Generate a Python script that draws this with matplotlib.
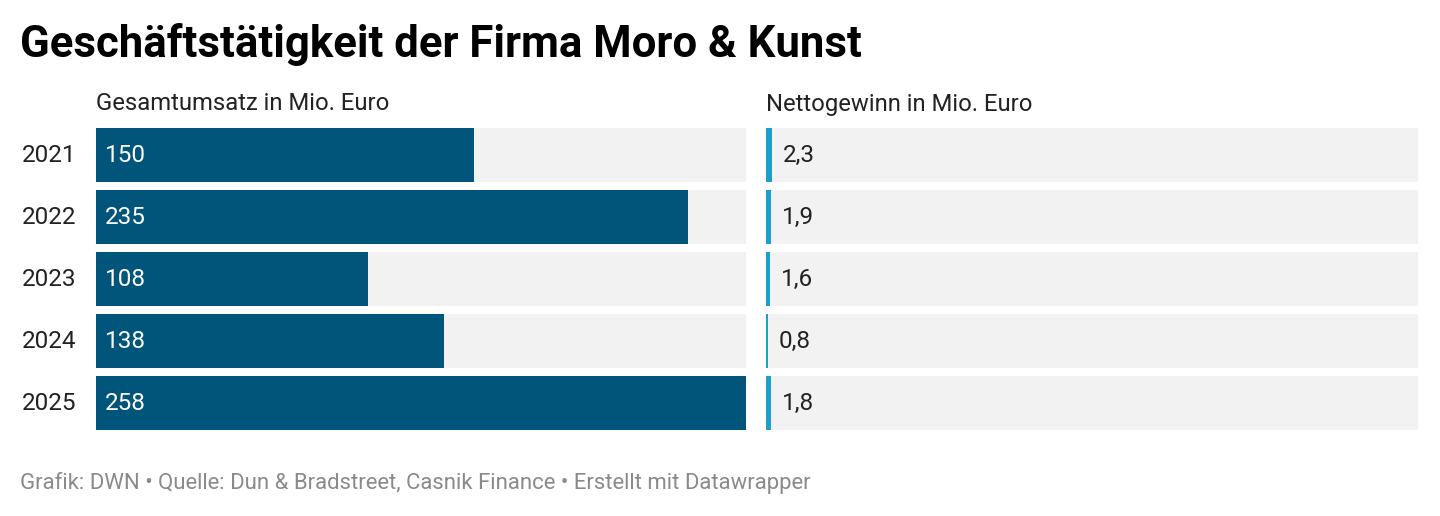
import matplotlib
matplotlib.use("Agg")
from matplotlib import pyplot as plt

plt.rcParams['font.family'] = ['Roboto', 'DejaVu Sans']

years = ["2021", "2022", "2023", "2024", "2025"]
umsatz = [150, 235, 108, 138, 258]
gewinn = [2.3, 1.9, 1.6, 0.8, 1.8]
umsatz_labels = ["150", "235", "108", "138", "258"]
gewinn_labels = ["2,3", "1,9", "1,6", "0,8", "1,8"]

W, H = 1440, 516
fig = plt.figure(figsize=(W / 100, H / 100), dpi=100)
fig.patch.set_facecolor("white")

scale_max = max(umsatz)
bg_color = "#f2f2f2"
dark = "#01557b"
light = "#1a9fce"


def px_axes(x0, x1, y0, y1):
    # pixel box (top-left origin) -> figure fraction
    return fig.add_axes([x0 / W, 1 - y1 / H, (x1 - x0) / W, (y1 - y0) / H])


top = 128
pitch = 62
bar_h = 54 / pitch
n = len(years)

panels = [
    (96, 746, umsatz, umsatz_labels, dark, "white", "Gesamtumsatz in Mio. Euro"),
    (766, 1418, gewinn, gewinn_labels, light, "#222222", "Nettogewinn in Mio. Euro"),
]

for x0, x1, vals, labels, col, tcol, head in panels:
    ax = px_axes(x0, x1, top, top + pitch * n - (pitch - 54))
    ypos = list(range(n))
    ax.barh(ypos, [scale_max] * n, height=bar_h, color=bg_color, left=0)
    ax.barh(ypos, vals, height=bar_h, color=col, left=0)
    ax.set_xlim(0, scale_max)
    ax.set_ylim(n - 1 + bar_h / 2, -bar_h / 2)
    ax.axis("off")
    for y, v, lab in zip(ypos, vals, labels):
        off = 9 if tcol == "white" else max(v / scale_max * (x1 - x0), 2) + 11
        ax.annotate(lab, xy=(0, y), xytext=(off * 0.72, 0), textcoords="offset points",
                    ha="left", va="center", fontsize=17.5, color=tcol)
    fig.text(x0 / W, 1 - 104 / H, head, ha="left", va="center", fontsize=17.2, color="#222222")

for i, yr in enumerate(years):
    yc = top + 27 + i * pitch
    fig.text(22 / W, 1 - yc / H, yr, ha="left", va="center", fontsize=17.5, color="#222222")

fig.text(20 / W, 1 - 45 / H, "Geschäftstätigkeit der Firma Moro & Kunst", ha="left", va="center",
         fontsize=31.5, fontweight="bold", color="black")
fig.text(20 / W, 1 - 483 / H,
         "Grafik: DWN • Quelle: Dun & Bradstreet, Casnik Finance • Erstellt mit Datawrapper",
         ha="left", va="center", fontsize=15.9, color="#8a8a8a")

fig.savefig("out.png", dpi=100, facecolor="white")
